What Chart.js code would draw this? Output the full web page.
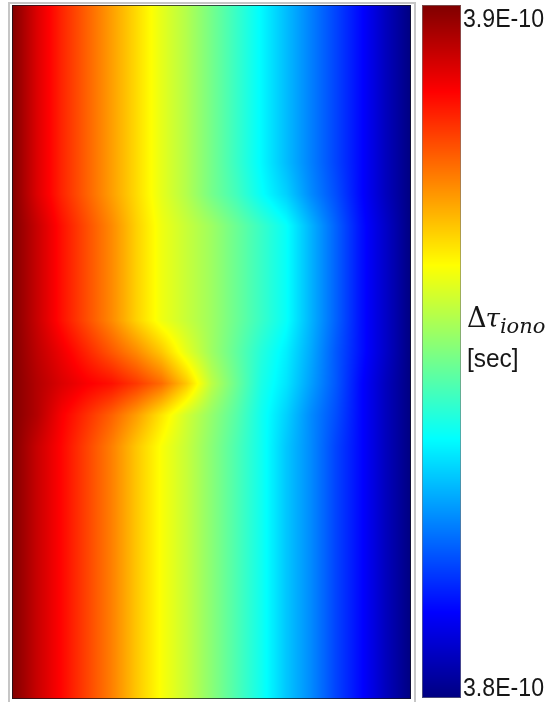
<!DOCTYPE html>
<html>
<head>
<meta charset="utf-8">
<script src="https://cdn.jsdelivr.net/npm/chart.js@4"></script>
<style>
  html, body { margin: 0; padding: 0; background: #fff; }
  #wrap { width: 556px; height: 702px; }
</style>
</head>
<body>
<div id="wrap"><canvas id="map" width="556" height="702"></canvas></div>
<script>
// grid node indices (columns left -> right, rows top -> bottom)
const xNodes = [0, 1, 2, 3, 4, 5, 6, 7, 8, 9, 10, 11, 12, 13, 14, 15, 16];
const yNodes = [0, 1, 2, 3, 4, 5, 6, 7, 8, 9, 10, 11, 12, 13, 14, 15, 16, 17, 18, 19, 20, 21, 22];

// delay values in units of 1e-10 sec
const rowTop    = [3.900, 3.891, 3.884, 3.878, 3.872, 3.866, 3.860, 3.855, 3.849, 3.843, 3.837, 3.831, 3.825, 3.819, 3.813, 3.806, 3.800];
const rowUpper  = [3.900, 3.891, 3.884, 3.878, 3.872, 3.866, 3.860, 3.855, 3.849, 3.844, 3.838, 3.833, 3.826, 3.820, 3.813, 3.806, 3.800];
const rowMid    = [3.900, 3.893, 3.886, 3.880, 3.874, 3.867, 3.861, 3.857, 3.853, 3.848, 3.843, 3.838, 3.830, 3.822, 3.814, 3.807, 3.800];
const rowBulge1 = [3.900, 3.894, 3.889, 3.884, 3.879, 3.874, 3.868, 3.860, 3.853, 3.847, 3.841, 3.836, 3.829, 3.821, 3.814, 3.807, 3.800];
const rowBulge2 = [3.900, 3.895, 3.891, 3.888, 3.886, 3.882, 3.877, 3.868, 3.856, 3.848, 3.840, 3.835, 3.828, 3.821, 3.813, 3.806, 3.800];
const rowBulge3 = [3.900, 3.895, 3.888, 3.883, 3.878, 3.872, 3.865, 3.858, 3.852, 3.846, 3.839, 3.833, 3.826, 3.820, 3.813, 3.806, 3.800];
const rowLow    = [3.900, 3.893, 3.887, 3.881, 3.875, 3.868, 3.862, 3.857, 3.851, 3.845, 3.839, 3.832, 3.826, 3.819, 3.813, 3.806, 3.800];

const tauValues = [
    rowTop, rowTop, rowTop, rowTop, rowTop, rowTop,
    rowUpper,
    rowMid, rowMid, rowMid, rowMid,
    rowBulge1, rowBulge2, rowBulge3,
    rowLow, rowLow, rowLow, rowLow, rowLow, rowLow, rowLow, rowLow, rowLow
];

const tauMin = 3.8;
const tauMax = 3.9;
const cbTicks = [3.9, 3.8];
const cbLabels = ["3.9E-10", "3.8E-10"];

function jet(t) {
    t = Math.max(0, Math.min(1, t));
    const c = v => Math.round(255 * Math.max(0, Math.min(1, v)));
    return [c(1.5 - Math.abs(4 * t - 3)), c(1.5 - Math.abs(4 * t - 2)), c(1.5 - Math.abs(4 * t - 1))];
}

const points = [];
yNodes.forEach((yv, j) => {
    xNodes.forEach((xv, i) => {
        points.push({ x: xv, y: yv, v: tauValues[j][i] });
    });
});

const heatmap = {
    id: "heatmap",
    beforeDatasetsDraw(chart) {
        const { ctx, chartArea: a, scales: { x, y } } = chart;
        const pts = chart.data.datasets[0].data;
        const nx = xNodes.length;
        const val = (i, j) => pts[j * nx + i].v;

        const left = Math.round(a.left), top = Math.round(a.top);
        const w = Math.round(a.right) - left, h = Math.round(a.bottom) - top;
        const img = ctx.createImageData(w, h);

        for (let j = 0; j < yNodes.length - 1; j++) {
            const y0 = y.getPixelForValue(yNodes[j]);
            const y1 = y.getPixelForValue(yNodes[j + 1]);
            for (let i = 0; i < nx - 1; i++) {
                const x0 = x.getPixelForValue(xNodes[i]);
                const x1 = x.getPixelForValue(xNodes[i + 1]);
                const v00 = val(i, j), v10 = val(i + 1, j), v01 = val(i, j + 1), v11 = val(i + 1, j + 1);
                for (let py = Math.round(y0); py < Math.round(y1); py++) {
                    const fy = (py + 0.5 - y0) / (y1 - y0);
                    for (let px = Math.round(x0); px < Math.round(x1); px++) {
                        const fx = (px + 0.5 - x0) / (x1 - x0);
                        const v = (v00 * (1 - fx) + v10 * fx) * (1 - fy) + (v01 * (1 - fx) + v11 * fx) * fy;
                        const col = jet((v - tauMin) / (tauMax - tauMin));
                        const k = ((py - top) * w + (px - left)) * 4;
                        img.data[k] = col[0];
                        img.data[k + 1] = col[1];
                        img.data[k + 2] = col[2];
                        img.data[k + 3] = 255;
                    }
                }
            }
        }
        ctx.putImageData(img, left, top);
    },
    afterDraw(chart) {
        const { ctx, chartArea: a, scales: { cb } } = chart;

        // thin dark edge of the map
        ctx.save();
        ctx.strokeStyle = "rgba(20,20,30,0.75)";
        ctx.lineWidth = 1;
        ctx.strokeRect(a.left + 0.5, a.top + 0.5, a.right - a.left - 1, a.bottom - a.top - 1);

        // light grey frame around the map
        ctx.strokeStyle = "#c6c6c6";
        ctx.lineWidth = 2;
        ctx.strokeRect(9, 3, 406, 702);

        // colour bar
        const cbLeft = 422, cbWidth = 39;
        const yTop = cb.getPixelForValue(tauMax), yBot = cb.getPixelForValue(tauMin);
        for (let py = Math.round(yTop); py < Math.round(yBot) - 1; py++) {
            const v = cb.getValueForPixel(py + 0.5);
            const col = jet((v - tauMin) / (tauMax - tauMin));
            ctx.fillStyle = "rgb(" + col.join(",") + ")";
            ctx.fillRect(cbLeft, py, cbWidth, 1);
        }
        ctx.strokeStyle = "rgba(120,120,120,0.6)";
        ctx.lineWidth = 1;
        ctx.strokeRect(cbLeft + 0.5, Math.round(yTop) + 0.5, cbWidth - 1, Math.round(yBot) - Math.round(yTop) - 2);

        // colour bar labels
        ctx.fillStyle = "#161616";
        ctx.textBaseline = "alphabetic";
        ctx.font = "26px 'Liberation Sans', Arial, sans-serif";
        const condensed = (s, px, py, sx) => {
            ctx.save();
            ctx.translate(px, py);
            ctx.scale(sx, 1);
            ctx.fillText(s, 0, 0);
            ctx.restore();
        };
        condensed(cbLabels[0], 463, cb.getPixelForValue(cbTicks[0]) + 22, 0.89);
        condensed(cbLabels[1], 463, cb.getPixelForValue(cbTicks[1]) - 3, 0.89);

        // quantity label: delta tau_iono [sec]
        let tx = 467;
        ctx.font = "27px 'DejaVu Serif', serif";
        ctx.fillText("\u0394", tx, 327);
        tx += ctx.measureText("\u0394").width - 1;
        ctx.font = "italic 26px 'DejaVu Serif', serif";
        ctx.fillText("\u03C4", tx, 327);
        tx += ctx.measureText("\u03C4").width;
        ctx.font = "italic 21px 'DejaVu Serif', serif";
        ctx.fillText("iono", tx, 333);
        ctx.font = "26px 'Liberation Sans', Arial, sans-serif";
        condensed("[sec]", 467, 367, 0.94);
        ctx.restore();
    }
};

new Chart(document.getElementById("map"), {
    type: "scatter",
    data: {
        datasets: [{
            label: "\u0394\u03C4 iono",
            data: points,
            pointRadius: 0,
            pointHoverRadius: 0
        }]
    },
    options: {
        responsive: false,
        devicePixelRatio: 1,
        animation: false,
        layout: { padding: { left: 12, top: 5, right: 145, bottom: 3 } },
        scales: {
            x: { type: "linear", min: 0, max: 16, display: false },
            y: { type: "linear", min: 0, max: 22, reverse: true, display: false },
            cb: { type: "linear", position: "right", min: tauMin, max: tauMax, display: false }
        },
        plugins: {
            legend: { display: false },
            tooltip: { enabled: false }
        }
    },
    plugins: [heatmap]
});
</script>
</body>
</html>
